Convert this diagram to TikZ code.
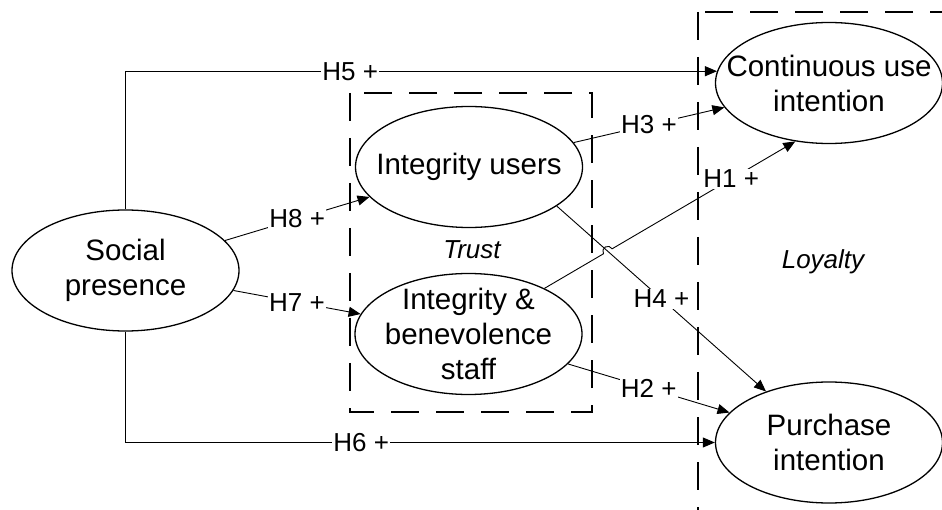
\documentclass[tikz,border=0pt]{standalone}
\usepackage{fontspec}
\setmainfont{Liberation Sans}
\usetikzlibrary{shapes.geometric, arrows.meta, calc, intersections}

\begin{document}
\begin{tikzpicture}[
		x=1pt, y=1pt,
		construct/.style={draw,ellipse,line width=1.3pt,minimum width=227pt,minimum height=121pt,inner xsep=-30pt,inner ysep=-20pt,align=center,font=\fontsize{29.5}{35}\selectfont},
		conn/.style={-{Triangle[length=12pt,width=10pt]},line width=0.9pt},
		hyp/.style={fill=white,inner sep=1pt,font=\fontsize{26}{30}\selectfont},
		groupbox/.style={draw,line width=1.8pt,dash pattern=on 28pt off 17pt},
		grouplabel/.style={font=\fontsize{26}{30}\selectfont\itshape}
	]
		\useasboundingbox (0,0) rectangle (942,-510);
		\clip (0,0) rectangle (942,-510);

		\draw [groupbox] (350,-93) rectangle (592,-412);
		\draw [groupbox] (698,-12) rectangle (975,-540);

		\node (soc) [construct] at (125.5,-270.5) {Social\\presence};
		\node (intu) [construct] at (469,-167) {Integrity users};
		\node (intb) [construct] at (468.5,-334) {Integrity \&\\benevolence\\staff};
		\node (cont) [construct] at (829,-83) {Continuous use\\intention};
		\node (purc) [construct] at (829,-442.5) {Purchase\\intention};
		\node (trust) [grouplabel] at (472,-250) {Trust};
		\node (loyal) [grouplabel] at (823,-262) {Loyalty};

		\draw [conn] (soc.north) |- node[hyp,pos=0.69] {H5 +} (cont.174);
		\draw [conn] (soc.south) |- node[hyp,pos=0.70] {H6 +} (purc.west);
		\draw [conn] (soc) -- node[hyp] {H8 +} (intu);
		\draw [conn] (soc) -- node[hyp] {H7 +} (intb);
		\draw [conn] (intu) -- node[hyp] {H3 +} (cont);
		\draw [conn] (intb) -- node[hyp] {H2 +} (purc);

		% H1 jumps over H4
		\path [name path=h4path] (intu.-24) -- (purc.141);
		\path [name path=h1path] (intb.31) -- (cont.240);
		\path [name intersections={of=h1path and h4path, by=hop}];
		\draw [conn] (intb.31) -- ($(hop)!5pt!(intb.31)$) arc[start angle=210, end angle=30, radius=5pt] -- node[hyp,pos=0.65] {H1 +} (cont.240);
		\draw [conn] (intu.-24) -- node[hyp] {H4 +} (purc.141);
	\end{tikzpicture}
\end{document}
